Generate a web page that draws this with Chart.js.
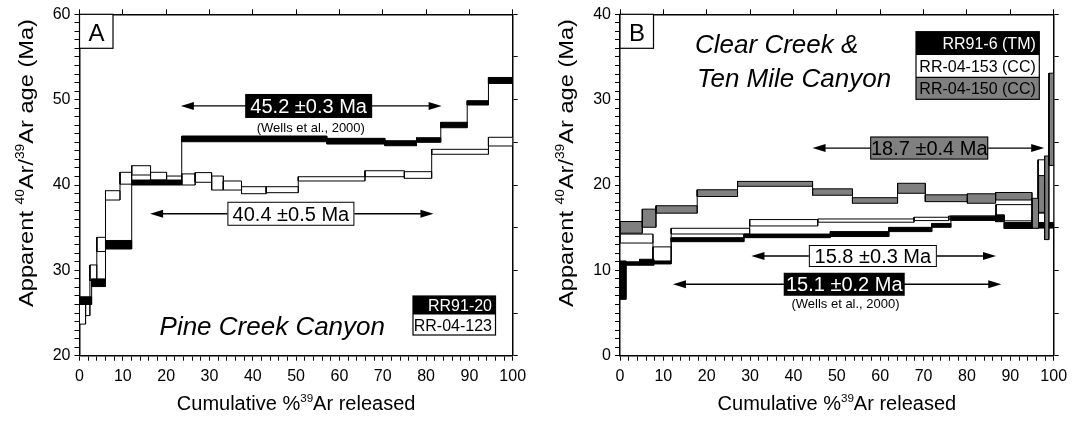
<!DOCTYPE html>
<html>
<head>
<meta charset="utf-8">
<script src="https://cdn.jsdelivr.net/npm/chart.js@4.4.1/dist/chart.umd.min.js"></script>
<style>
  body { margin: 0; background: #fff; }
  canvas { position: absolute; top: 0; }
</style>
</head>
<body>
<canvas id="chartA" width="540" height="421" style="left:0"></canvas>
<canvas id="chartB" width="541" height="421" style="left:540px"></canvas>
<script>
// ---- Panel A : Pine Creek Canyon ----
// step boundaries (cumulative %39Ar) and age band (low / high, Ma)
const a_rr9120_steps = [0, 2.8, 6.0, 12.05, 23.6, 57.1, 70.5, 77.8, 83.4, 89.5, 94.4, 100];
const a_rr9120_lo = [26.0, 28.1, 32.5, 40.0, 45.07, 44.8, 44.6, 45.0, 46.71, 49.37, 51.9];
const a_rr9120_hi = [26.9, 29.0, 33.5, 40.58, 45.74, 45.47, 45.19, 45.54, 47.35, 49.88, 52.6];

const a_rr04123_steps = [0, 1.4, 2.4, 4.0, 6.0, 9.35, 12.05, 16.4, 20.1, 23.6, 26.7, 30.5, 33.2, 37.4, 43.1, 50.5, 65.9, 75.0, 81.3, 94.4, 100];
const a_rr04123_lo = [23.7, 24.7, 28.8, 32.2, 38.24, 40.1, 41.17, 40.58, 40.1, 40.0, 40.32, 39.41, 39.41, 38.98, 39.1, 40.47, 40.97, 40.78, 43.6, 44.57];
const a_rr04123_hi = [26.5, 26.2, 30.63, 33.87, 39.33, 41.49, 42.26, 41.49, 41.05, 41.3, 41.45, 41.05, 40.47, 39.8, 39.8, 40.97, 41.67, 41.56, 44.18, 45.59];

// ---- Panel B : Clear Creek & Ten Mile Canyon ----
const b_rr916_steps = [0, 1.4, 4.5, 7.8, 11.8, 28.6, 48.5, 62.0, 71.9, 76.3, 86.6, 88.6, 95.0, 100];
const b_rr916_lo = [6.6, 10.6, 10.6, 10.75, 13.36, 13.83, 13.96, 14.54, 15.04, 15.85, 15.7, 14.9, 14.95];
const b_rr916_hi = [11.1, 11.0, 11.3, 11.1, 13.83, 14.25, 14.54, 15.04, 15.5, 16.35, 16.5, 15.6, 15.6];

const b_rr04153_steps = [0, 7.6, 11.8, 29.9, 45.6, 67.8, 75.8, 86.7, 96.4, 98.0, 100];
const b_rr04153_lo = [13.2, 11.0, 14.26, 15.2, 15.64, 15.83, 15.98, 15.8, 16.7, 15.5];
const b_rr04153_hi = [14.25, 12.75, 14.93, 15.95, 16.02, 16.22, 16.37, 17.7, 22.95, 22.3];

const b_rr04150_steps = [0, 5.15, 8.3, 17.8, 27.1, 44.4, 53.6, 64.0, 70.4, 80.1, 86.6, 95.0, 96.5, 97.9, 98.9, 100];
const b_rr04150_lo = [14.35, 15.05, 16.7, 18.65, 19.85, 18.8, 17.86, 19.03, 18.05, 17.86, 18.24, 14.93, 16.8, 13.6, 22.3];
const b_rr04150_hi = [15.72, 17.17, 17.57, 19.44, 20.42, 19.55, 18.51, 20.2, 18.85, 18.97, 19.12, 18.44, 21.1, 23.4, 33.1];

// plateau ages: [text, from %, to %, age]
const a_plateaus = [['45.2 ±0.3 Ma', 23.4, 83.6, 49.26], ['40.4 ±0.5 Ma', 16.3, 81.7, 36.63]];
const b_plateaus = [['18.7 ±0.4 Ma', 44.4, 97.8, 24.33], ['15.8 ±0.3 Ma', 30.3, 86.7, 11.68], ['15.1 ±0.2 Ma', 12.2, 87.9, 8.37]];

const FAM = "'Liberation Sans', Arial, Helvetica, sans-serif";
const GREY = '#808080';
Chart.defaults.font.family = FAM;
Chart.defaults.color = '#000';

// one closed box per heating step, plus the vertical risers joining them
function stepDatasets(steps, lo, hi, fillColor) {
  const sets = [];
  for (let i = 0; i < lo.length; i++) {
    const x0 = steps[i], x1 = steps[i + 1];
    sets.push({
      data: [{x: x0, y: lo[i]}, {x: x1, y: lo[i]}, {x: x1, y: hi[i]}, {x: x0, y: hi[i]}, {x: x0, y: lo[i]}],
      borderColor: '#000', borderWidth: 1, backgroundColor: fillColor, fill: 'shape'
    });
  }
  const risers = [];
  for (let i = 1; i < lo.length; i++) {
    risers.push({x: steps[i], y: Math.min(lo[i - 1], lo[i])});
    risers.push({x: steps[i], y: Math.max(hi[i - 1], hi[i])});
    risers.push({x: steps[i], y: null});
  }
  sets.push({data: risers, borderColor: '#000', borderWidth: 1, fill: false, spanGaps: false});
  return sets;
}

function drawRich(ctx, parts, x, y, size, align, style) {
  const f = (s) => (style || '') + ' ' + s + 'px ' + FAM;
  let w = 0;
  parts.forEach(p => {
    ctx.font = typeof p === 'string' ? f(size) : f(size * 0.58);
    w += ctx.measureText(typeof p === 'string' ? p : p.sup).width;
  });
  let cx = align === 'center' ? x - w / 2 : (align === 'right' ? x - w : x);
  ctx.textAlign = 'left';
  ctx.textBaseline = 'alphabetic';
  parts.forEach(p => {
    if (typeof p === 'string') {
      ctx.font = f(size);
      ctx.fillText(p, cx, y);
      cx += ctx.measureText(p).width;
    } else {
      ctx.font = f(size * 0.58);
      ctx.fillText(p.sup, cx, y - size * 0.42);
      cx += ctx.measureText(p.sup).width;
    }
  });
  return w;
}

const annotPlugin = {
  id: 'annot',
  afterDraw(chart, args, o) {
    const ctx = chart.ctx, xs = chart.scales.x, ys = chart.scales.y, ca = chart.chartArea;
    ctx.save();
    ctx.fillStyle = '#000';
    ctx.strokeStyle = '#000';

    // plateau arrows with labels
    o.plateaus.forEach((p, i) => {
      const st = o.labelStyle[i];
      const x0 = xs.getPixelForValue(p[1]), x1 = xs.getPixelForValue(p[2]), y = ys.getPixelForValue(p[3]);
      ctx.lineWidth = 1.3;
      ctx.beginPath(); ctx.moveTo(x0 + 8, y); ctx.lineTo(x1 - 8, y); ctx.stroke();
      ctx.beginPath(); ctx.moveTo(x0, y); ctx.lineTo(x0 + 13, y - 4); ctx.lineTo(x0 + 13, y + 4); ctx.closePath(); ctx.fill();
      ctx.beginPath(); ctx.moveTo(x1, y); ctx.lineTo(x1 - 13, y - 4); ctx.lineTo(x1 - 13, y + 4); ctx.closePath(); ctx.fill();
      const bx = xs.getPixelForValue(st.cx) - st.w / 2, by = ys.getPixelForValue(p[3]) - st.h / 2 + (st.dy || 0);
      ctx.fillStyle = st.fill;
      ctx.fillRect(bx, by, st.w, st.h);
      if (st.border) { ctx.lineWidth = 1; ctx.strokeRect(bx + 0.5, by + 0.5, st.w - 1, st.h - 1); }
      ctx.fillStyle = st.color;
      ctx.font = '20px ' + FAM;
      ctx.textAlign = 'center';
      ctx.textBaseline = 'alphabetic';
      ctx.fillText(p[0], bx + st.w / 2, by + st.h / 2 + 7);
      ctx.fillStyle = '#000';
    });

    // citation
    ctx.font = '13px ' + FAM;
    ctx.textAlign = 'center';
    ctx.fillText('(Wells et al., 2000)', xs.getPixelForValue(o.cite[0]), ys.getPixelForValue(o.cite[1]) + 4.5);

    // site name
    o.site.forEach(s => {
      ctx.font = 'italic 26px ' + FAM;
      ctx.textAlign = s[3];
      ctx.fillText(s[0], xs.getPixelForValue(s[1]), ys.getPixelForValue(s[2]));
    });

    // panel letter
    ctx.fillStyle = '#fff';
    ctx.fillRect(ca.left, ca.top, 33.5, 34);
    ctx.lineWidth = 1.2;
    ctx.strokeRect(ca.left, ca.top, 33.5, 34);
    ctx.fillStyle = '#000';
    ctx.font = '24px ' + FAM;
    ctx.textAlign = 'center';
    ctx.fillText(o.letter, ca.left + 17, ca.top + 26.5);

    // sample legend
    const L = o.legend;
    let ly = L.top;
    L.rows.forEach(r => {
      ctx.fillStyle = r[1];
      ctx.fillRect(L.left, ly, L.w, r[3]);
      ctx.fillStyle = r[2];
      ctx.font = '16px ' + FAM;
      ctx.textAlign = 'right';
      ctx.fillText(r[0], L.left + L.w - 3.5, ly + r[3] / 2 + 6);
      ly += r[3];
    });
    ctx.lineWidth = 1.2;
    ctx.strokeStyle = '#000';
    ctx.strokeRect(L.left, L.top, L.w, ly - L.top);
    ly = L.top;
    L.rows.forEach(r => { ly += r[3]; if (r[4]) { ctx.beginPath(); ctx.moveTo(L.left, ly - r[3]); ctx.lineTo(L.left + L.w, ly - r[3]); ctx.stroke(); } });

    // axis titles
    ctx.fillStyle = '#000';
    drawRich(ctx, ['Cumulative %', {sup: '39'}, 'Ar released'], (ca.left + ca.right) / 2, 410, 20, 'center');
    ctx.translate(33, 163);
    ctx.rotate(-Math.PI / 2);
    ctx.font = '21px ' + FAM;
    const parts = ['Apparent ', {sup: '40'}, 'Ar/', {sup: '39'}, 'Ar age (Ma)'];
    let w = 0;
    parts.forEach(p => { ctx.font = typeof p === 'string' ? '21px ' + FAM : '12.2px ' + FAM; w += ctx.measureText(typeof p === 'string' ? p : p.sup).width; });
    ctx.scale(288 / w, 1);
    drawRich(ctx, parts, 0, 0, 21, 'center');
    ctx.restore();
  }
};

function makeChart(id, plot, yMin, yMax, datasets, annot) {
  const canvas = document.getElementById(id);
  const W = canvas.width, H = canvas.height;
  const border = {display: true, color: '#000', width: 1.5};
  const grid = {drawOnChartArea: false, drawTicks: true, tickLength: 5, tickColor: '#000', tickWidth: 1, color: '#000'};
  const tickFont = {family: FAM, size: 16};
  datasets.forEach((d, i) => { d.order = -i; d.pointRadius = 0; d.tension = 0; });
  return new Chart(canvas, {
    type: 'line',
    data: {datasets: datasets},
    options: {
      responsive: false,
      animation: false,
      devicePixelRatio: 1,
      events: [],
      layout: {padding: 0},
      plugins: {legend: {display: false}, tooltip: {enabled: false}, annot: annot},
      scales: {
        x: {type: 'linear', position: 'bottom', min: 0, max: 100, border, grid,
            ticks: {stepSize: 2, autoSkip: false, maxRotation: 0, font: tickFont, color: '#000', padding: 6,
                    callback: v => (v % 10 === 0 ? v : '')},
            afterFit: s => { s.height = H - plot.bottom; }},
        xTop: {type: 'linear', position: 'top', min: 0, max: 100, border, grid,
               ticks: {stepSize: 10, display: false},
               afterFit: s => { s.height = plot.top; }},
        y: {type: 'linear', position: 'left', min: yMin, max: yMax, border, grid,
            ticks: {stepSize: 1, autoSkip: false, font: tickFont, color: '#000', padding: 4,
                    callback: v => (v % 10 === 0 ? v : '')},
            afterFit: s => { s.width = plot.left; }},
        yRight: {type: 'linear', position: 'right', min: yMin, max: yMax, border, grid,
                 ticks: {stepSize: 5, display: false},
                 afterFit: s => { s.width = W - plot.right; }}
      }
    },
    plugins: [annotPlugin]
  });
}

makeChart('chartA', {left: 79.5, right: 512.7, top: 14.3, bottom: 355.7}, 20, 60,
  [].concat(
    stepDatasets(a_rr04123_steps, a_rr04123_lo, a_rr04123_hi, '#fff'),
    stepDatasets(a_rr9120_steps, a_rr9120_lo, a_rr9120_hi, '#000')
  ),
  {
    plateaus: a_plateaus,
    labelStyle: [
      {cx: 52.9, w: 127, h: 24, fill: '#000', color: '#fff', border: false},
      {cx: 48.8, w: 127, h: 24, fill: '#fff', color: '#000', border: true}
    ],
    cite: [53.4, 46.71],
    site: [['Pine Creek Canyon', 44.5, 22.43, 'center']],
    letter: 'A',
    legend: {left: 413, top: 296, w: 82.5, rows: [['RR91-20', '#000', '#fff', 18, false], ['RR-04-123', '#fff', '#000', 21, true]]}
  });

makeChart('chartB', {left: 80, right: 513.7, top: 14.3, bottom: 355.7}, 0, 40,
  [].concat(
    stepDatasets(b_rr04153_steps, b_rr04153_lo, b_rr04153_hi, '#fff'),
    stepDatasets(b_rr916_steps, b_rr916_lo, b_rr916_hi, '#000'),
    stepDatasets(b_rr04150_steps, b_rr04150_lo, b_rr04150_hi, GREY)
  ),
  {
    plateaus: b_plateaus,
    labelStyle: [
      {cx: 71.3, w: 118, h: 23, fill: GREY, color: '#000', border: true},
      {cx: 58.3, w: 128, h: 22, fill: '#fff', color: '#000', border: true},
      {cx: 51.7, w: 121, h: 23, fill: '#000', color: '#fff', border: false}
    ],
    cite: [52.0, 6.06],
    site: [['Clear Creek &', 17.3, 35.43, 'left'], ['Ten Mile Canyon', 17.75, 31.45, 'left']],
    letter: 'B',
    legend: {left: 376, top: 31.7, w: 123.3, rows: [['RR91-6 (TM)', '#000', '#fff', 23.3, false], ['RR-04-153 (CC)', '#fff', '#000', 22.3, false], ['RR-04-150 (CC)', GREY, '#000', 22, true]]}
  });
</script>
</body>
</html>
